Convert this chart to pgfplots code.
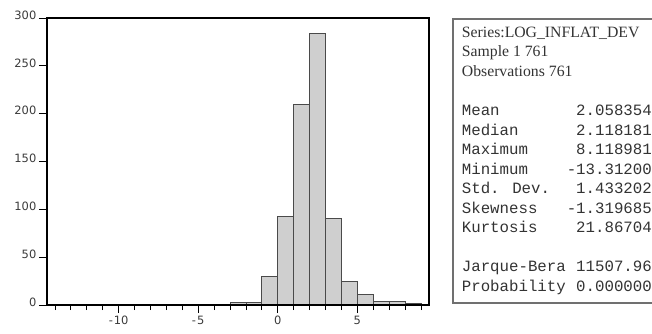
\documentclass[border=0pt]{standalone}
\usepackage{pgfplots}
\pgfplotsset{compat=1.18}
\usepackage{fontspec}
\newfontfamily\tickfont{DejaVu Sans}
\newfontfamily\monofont{Liberation Mono}
\newfontfamily\seriffont{Liberation Serif}
\definecolor{barfill}{HTML}{CFCFCF}
\definecolor{baredge}{HTML}{4A4A4A}
\definecolor{txt}{HTML}{333333}
\definecolor{ticktxt}{HTML}{3A3A3A}
\definecolor{boxc}{HTML}{707070}
\begin{document}
\begin{tikzpicture}[x=1bp,y=1bp]
\useasboundingbox (-47,-28) rectangle (605,305);
\begin{axis}[
  at={(0,0)}, anchor=south west,
  scale only axis, width=382bp, height=287bp,
  xmin=-14.5, xmax=9.5, ymin=0, ymax=300,
  axis on top,
  axis line style={line width=1.3bp, black},
  xtick={-10,-5,0,5}, xticklabels={-\kern1bp 10,-\kern1bp 5,0,5},
  minor xtick={-14,...,9},
  ytick={0,50,...,300}, yticklabels={0,50,100,150,200,250,300},
  tick align=outside,
  xtick pos=bottom, ytick pos=left,
  major tick length=8bp, minor tick length=5bp,
  tick style={black, line width=0.9bp},
  tick label style={font=\tickfont\fontsize{11.5}{13}\selectfont, text=ticktxt, inner sep=2.5bp},
  yticklabel style={yshift=3bp},
]
\addplot[ybar interval, fill=barfill, draw=baredge, line width=0.9bp] coordinates {
(-14,1) (-13,0) (-12,0) (-11,0) (-10,0) (-9,0) (-8,0) (-7,0) (-6,0) (-5,1) (-4,0)
(-3,3) (-2,3) (-1,30) (0,93) (1,210) (2,284) (3,90) (4,25) (5,11) (6,4) (7,4) (8,2) (9,0)
};
\end{axis}
\draw[boxc, line width=1.2bp] (660,286) -- (406,286) -- (406,2) -- (660,2);
\begin{scope}[every node/.style={inner sep=0pt, text=txt}]
\node[anchor=base west, font=\seriffont\fontsize{15.8}{18}\selectfont] at (414.7,267.7) {Series:LOG\_INFLAT\_DEV};
\node[anchor=base west, font=\seriffont\fontsize{15.8}{18}\selectfont] at (414.7,248.2) {Sample 1 761};
\node[anchor=base west, font=\seriffont\fontsize{15.8}{18}\selectfont] at (414.7,228.6) {Observations 761};
\foreach \y/\lab/\val in {189.5/Mean/2.058354, 170.0/Median/2.118181, 150.4/Maximum/8.118981, 130.9/Minimum/-13.31200, 111.3/Std. Dev./1.433202, 91.8/Skewness/-1.319685, 72.2/Kurtosis/21.86704, 33.1/Jarque-Bera/11507.96, 13.6/Probability/0.000000}{
  \node[anchor=base west, font=\monofont\fontsize{15.8}{18}\selectfont] at (414.7,\y) {\lab};
  \node[anchor=base east, font=\monofont\fontsize{15.8}{18}\selectfont] at (605,\y) {\val};
}
\end{scope}
\end{tikzpicture}
\end{document}
